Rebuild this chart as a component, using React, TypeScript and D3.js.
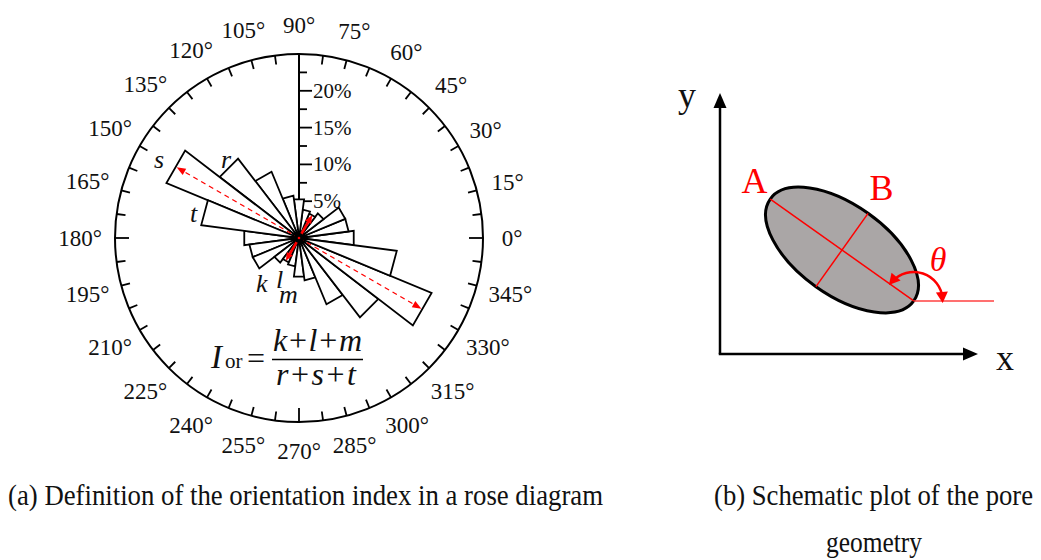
import React from 'react';
import * as d3 from 'd3';

// ---------- DATA ----------
const binCenters = [0, 15, 30, 45, 60, 75, 90, 105, 120, 135, 150, 165];
const binPercents = [7.5, 6.8, 6.8, 4.2, 3.6, 3.9, 5.3, 5.8, 9.75, 13.6, 19.5, 13.4];
const binWidth = 15;
const angleLabels = d3.range(0, 360, 15);
const circleTicks = d3.range(0, 360, 7.5);
const radialTicks = [2.5, 5, 7.5, 10, 12.5, 15, 17.5, 20, 22.5];
const radialLabels = [5, 10, 15, 20];
const preferredIdx = 10; // s petal (150°)
const minimumIdx = 4; // 60° petal

const FONT = '"Liberation Serif", "Times New Roman", serif';

type P = { deg: number; v: number };

function arrowHead(tx: number, ty: number, dx: number, dy: number, len: number, hw: number) {
  const n = Math.hypot(dx, dy);
  const ux = dx / n, uy = dy / n;
  const bx = tx - ux * len, by = ty - uy * len;
  const px = -uy, py = ux;
  return `${tx},${ty} ${bx + px * hw},${by + py * hw} ${bx - px * hw},${by - py * hw}`;
}

function Rose() {
  const cx = 299, cy = 238, R = 184;
  const rScale = d3.scaleLinear().domain([0, 25]).range([0, R]);
  const rad = (d: number) => (d * Math.PI) / 180;
  const pt = (deg: number, r: number) => [cx + r * Math.cos(rad(deg)), cy - r * Math.sin(rad(deg))];

  const lineRadial = d3
    .lineRadial<P>()
    .angle((p) => rad(90 - p.deg))
    .radius((p) => rScale(p.v))
    .curve(d3.curveLinearClosed);

  const petals: { a: number; v: number }[] = [];
  binCenters.forEach((a, i) => {
    petals.push({ a, v: binPercents[i] });
    petals.push({ a: a + 180, v: binPercents[i] });
  });

  const sAngle = binCenters[preferredIdx];
  const sLen = rScale(binPercents[preferredIdx]) * Math.cos(rad(binWidth / 2)) - 1;
  const mAngle = binCenters[minimumIdx];
  const mLen = rScale(binPercents[minimumIdx]) * Math.cos(rad(binWidth / 2));

  const redArrow = (deg: number, len: number, dashed: boolean, key: string) => {
    const [tx, ty] = pt(deg, len);
    const dx = Math.cos(rad(deg)), dy = -Math.sin(rad(deg));
    const [bx, by] = pt(deg, len - (dashed ? 7 : 6));
    return (
      <g key={key}>
        <line x1={cx} y1={cy} x2={bx} y2={by} stroke="#ff0000" strokeWidth={dashed ? 1.3 : 2.6}
          strokeDasharray={dashed ? '5,4' : undefined} />
        <polygon points={arrowHead(tx, ty, dx, dy, dashed ? 9 : 8, 3.5)} fill="#ff0000" />
      </g>
    );
  };

  return (
    <g>
      {/* outer circle */}
      <circle cx={cx} cy={cy} r={R} fill="none" stroke="#000" strokeWidth={2} />
      {circleTicks.map((a) => {
        const len = a % 90 === 0 ? 14 : 9;
        const [x1, y1] = pt(a, R);
        const [x2, y2] = pt(a, R - len);
        return <line key={'ct' + a} x1={x1} y1={y1} x2={x2} y2={y2} stroke="#000" strokeWidth={1.8} />;
      })}
      {angleLabels.map((a) => {
        const txt = `${a}°`;
        const r = 213 + (txt.length - 2) * 3 * Math.abs(Math.cos(rad(a)));
        const [x, y] = pt(a, r);
        return (
          <text key={'al' + a} x={x} y={y} textAnchor="middle" dominantBaseline="central"
            fontFamily={FONT} fontSize={23} fill="#111">{txt}</text>
        );
      })}
      {/* vertical radial axis */}
      <line x1={cx} y1={cy} x2={cx} y2={cy - R} stroke="#000" strokeWidth={2} />
      {radialTicks.map((t) => {
        const major = radialLabels.includes(t);
        const y = cy - rScale(t);
        return <line key={'rt' + t} x1={cx} y1={y} x2={cx + (major ? 13 : 8)} y2={y} stroke="#000" strokeWidth={1.8} />;
      })}
      {radialLabels.map((t) => (
        <text key={'rl' + t} x={cx + 14} y={cy - rScale(t)} dominantBaseline="central"
          fontFamily={FONT} fontSize={21} fill="#111">{`${t}%`}</text>
      ))}
      {/* petals */}
      {petals.map((p, i) => (
        <path key={'p' + i}
          d={lineRadial([
            { deg: p.a, v: 0 },
            { deg: p.a - binWidth / 2, v: p.v },
            { deg: p.a + binWidth / 2, v: p.v },
          ]) || ''}
          transform={`translate(${cx},${cy})`} fill="#fff" stroke="#000" strokeWidth={1.8} strokeLinejoin="miter" />
      ))}
      {/* red arrows */}
      {redArrow(sAngle, sLen, true, 'ra1')}
      {redArrow(sAngle + 180, sLen, true, 'ra2')}
      {redArrow(mAngle, mLen, false, 'ra3')}
      {redArrow(mAngle + 180, mLen, false, 'ra4')}
      <circle cx={cx} cy={cy} r={5} fill="#000" />
      <circle cx={cx} cy={cy} r={1.3} fill="#ff0000" />
      {/* petal letters */}
      <g fontFamily={FONT} fontStyle="italic" fontSize={26} fill="#111">
        <text x={154} y={168}>s</text>
        <text x={221} y={168}>r</text>
        <text x={190} y={222}>t</text>
        <text x={256} y={292}>k</text>
        <text x={276} y={288}>l</text>
        <text x={279} y={303}>m</text>
      </g>
      {/* formula */}
      <g fontFamily={FONT} fill="#111">
        <text x={211} y={368} fontSize={33} fontStyle="italic">I</text>
        <text x={225} y={368} fontSize={21}>or</text>
        <text x={256} y={369} fontSize={32} textAnchor="middle">=</text>
        <line x1={272} y1={359.5} x2={363} y2={359.5} stroke="#000" strokeWidth={1.6} />
        <text x={273} y={351} fontSize={32} textLength={89} lengthAdjust="spacing">
          <tspan fontStyle="italic">k</tspan>+<tspan fontStyle="italic">l</tspan>+<tspan fontStyle="italic">m</tspan>
        </text>
        <text x={276} y={385} fontSize={32} textLength={80} lengthAdjust="spacing">
          <tspan fontStyle="italic">r</tspan>+<tspan fontStyle="italic">s</tspan>+<tspan fontStyle="italic">t</tspan>
        </text>
      </g>
    </g>
  );
}

function Pore() {
  const ox = 720, oy = 354; // axes origin
  const ecx = 842, ecy = 250, erx = 88, ery = 45, rot = 35.4;
  const rad = (d: number) => (d * Math.PI) / 180;
  const ux = Math.cos(rad(rot)), uy = Math.sin(rad(rot));
  const ax = ecx - ux * erx, ay = ecy - uy * erx;
  const bx = ecx + ux * erx, by = ecy + uy * erx;
  const mx1 = ecx - uy * ery, my1 = ecy + ux * ery;
  const mx2 = ecx + uy * ery, my2 = ecy - ux * ery;

  const arcR = 29;
  const a0 = 221, a1 = 356;
  const arc = d3.path();
  arc.arc(bx, by, arcR, rad(a0), rad(a1), false);
  const sx = bx + arcR * Math.cos(rad(a0)), sy = by + arcR * Math.sin(rad(a0));
  const ex = bx + arcR * Math.cos(rad(a1)), ey = by + arcR * Math.sin(rad(a1));

  return (
    <g>
      {/* axes */}
      <line x1={ox} y1={oy} x2={ox} y2={106} stroke="#000" strokeWidth={2.5} />
      <polygon points={arrowHead(ox, 93, 0, -1, 15, 6.5)} fill="#000" />
      <line x1={ox - 1.25} y1={oy} x2={964} y2={oy} stroke="#000" strokeWidth={2.5} />
      <polygon points={arrowHead(978, oy, 1, 0, 15, 6.5)} fill="#000" />
      <text x={687} y={107} textAnchor="middle" fontFamily={FONT} fontSize={36} fill="#111">y</text>
      <text x={1005} y={370} textAnchor="middle" fontFamily={FONT} fontSize={36} fill="#111">x</text>
      {/* ellipse */}
      <ellipse cx={ecx} cy={ecy} rx={erx} ry={ery} transform={`rotate(${rot},${ecx},${ecy})`}
        fill="#aaa6a6" stroke="#000" strokeWidth={3} />
      <line x1={ax} y1={ay} x2={bx} y2={by} stroke="#ff0000" strokeWidth={1.5} />
      <line x1={mx1} y1={my1} x2={mx2} y2={my2} stroke="#ff0000" strokeWidth={1.5} />
      <line x1={bx} y1={by} x2={994} y2={by} stroke="#ff4040" strokeWidth={1.5} />
      {/* theta arc */}
      <path d={arc.toString()} fill="none" stroke="#ff0000" strokeWidth={2.5} />
      <polygon points={arrowHead(sx - 3, sy + 3, Math.sin(rad(a0)), -Math.cos(rad(a0)), 11, 6)} fill="#ff0000" />
      <polygon points={arrowHead(ex, ey + 4, -Math.sin(rad(a1)), Math.cos(rad(a1)), 11, 6)} fill="#ff0000" />
      <text x={754.5} y={193} textAnchor="middle" fontFamily={FONT} fontSize={36} fill="#ff0000">A</text>
      <text x={881.5} y={200} textAnchor="middle" fontFamily={FONT} fontSize={36} fill="#ff0000">B</text>
      <text x={938} y={271} textAnchor="middle" fontFamily={FONT} fontStyle="italic" fontSize={34} fill="#ff0000">θ</text>
    </g>
  );
}

export default function App() {
  return (
    <svg width={1041} height={560} viewBox="0 0 1041 560"
      style={{ position: 'absolute', left: 0, top: 0, background: '#fff' }}>
      <rect x={0} y={0} width={1041} height={560} fill="#fff" />
      <Rose />
      <Pore />
      <g fontFamily={FONT} fontSize={29} fill="#111">
        <text x={8} y={505} textLength={595} lengthAdjust="spacingAndGlyphs">(a) Definition of the orientation index in a rose diagram</text>
        <text x={714} y={505} textLength={319} lengthAdjust="spacingAndGlyphs">(b) Schematic plot of the pore</text>
        <text x={826} y={552} textLength={96} lengthAdjust="spacingAndGlyphs">geometry</text>
      </g>
    </svg>
  );
}
